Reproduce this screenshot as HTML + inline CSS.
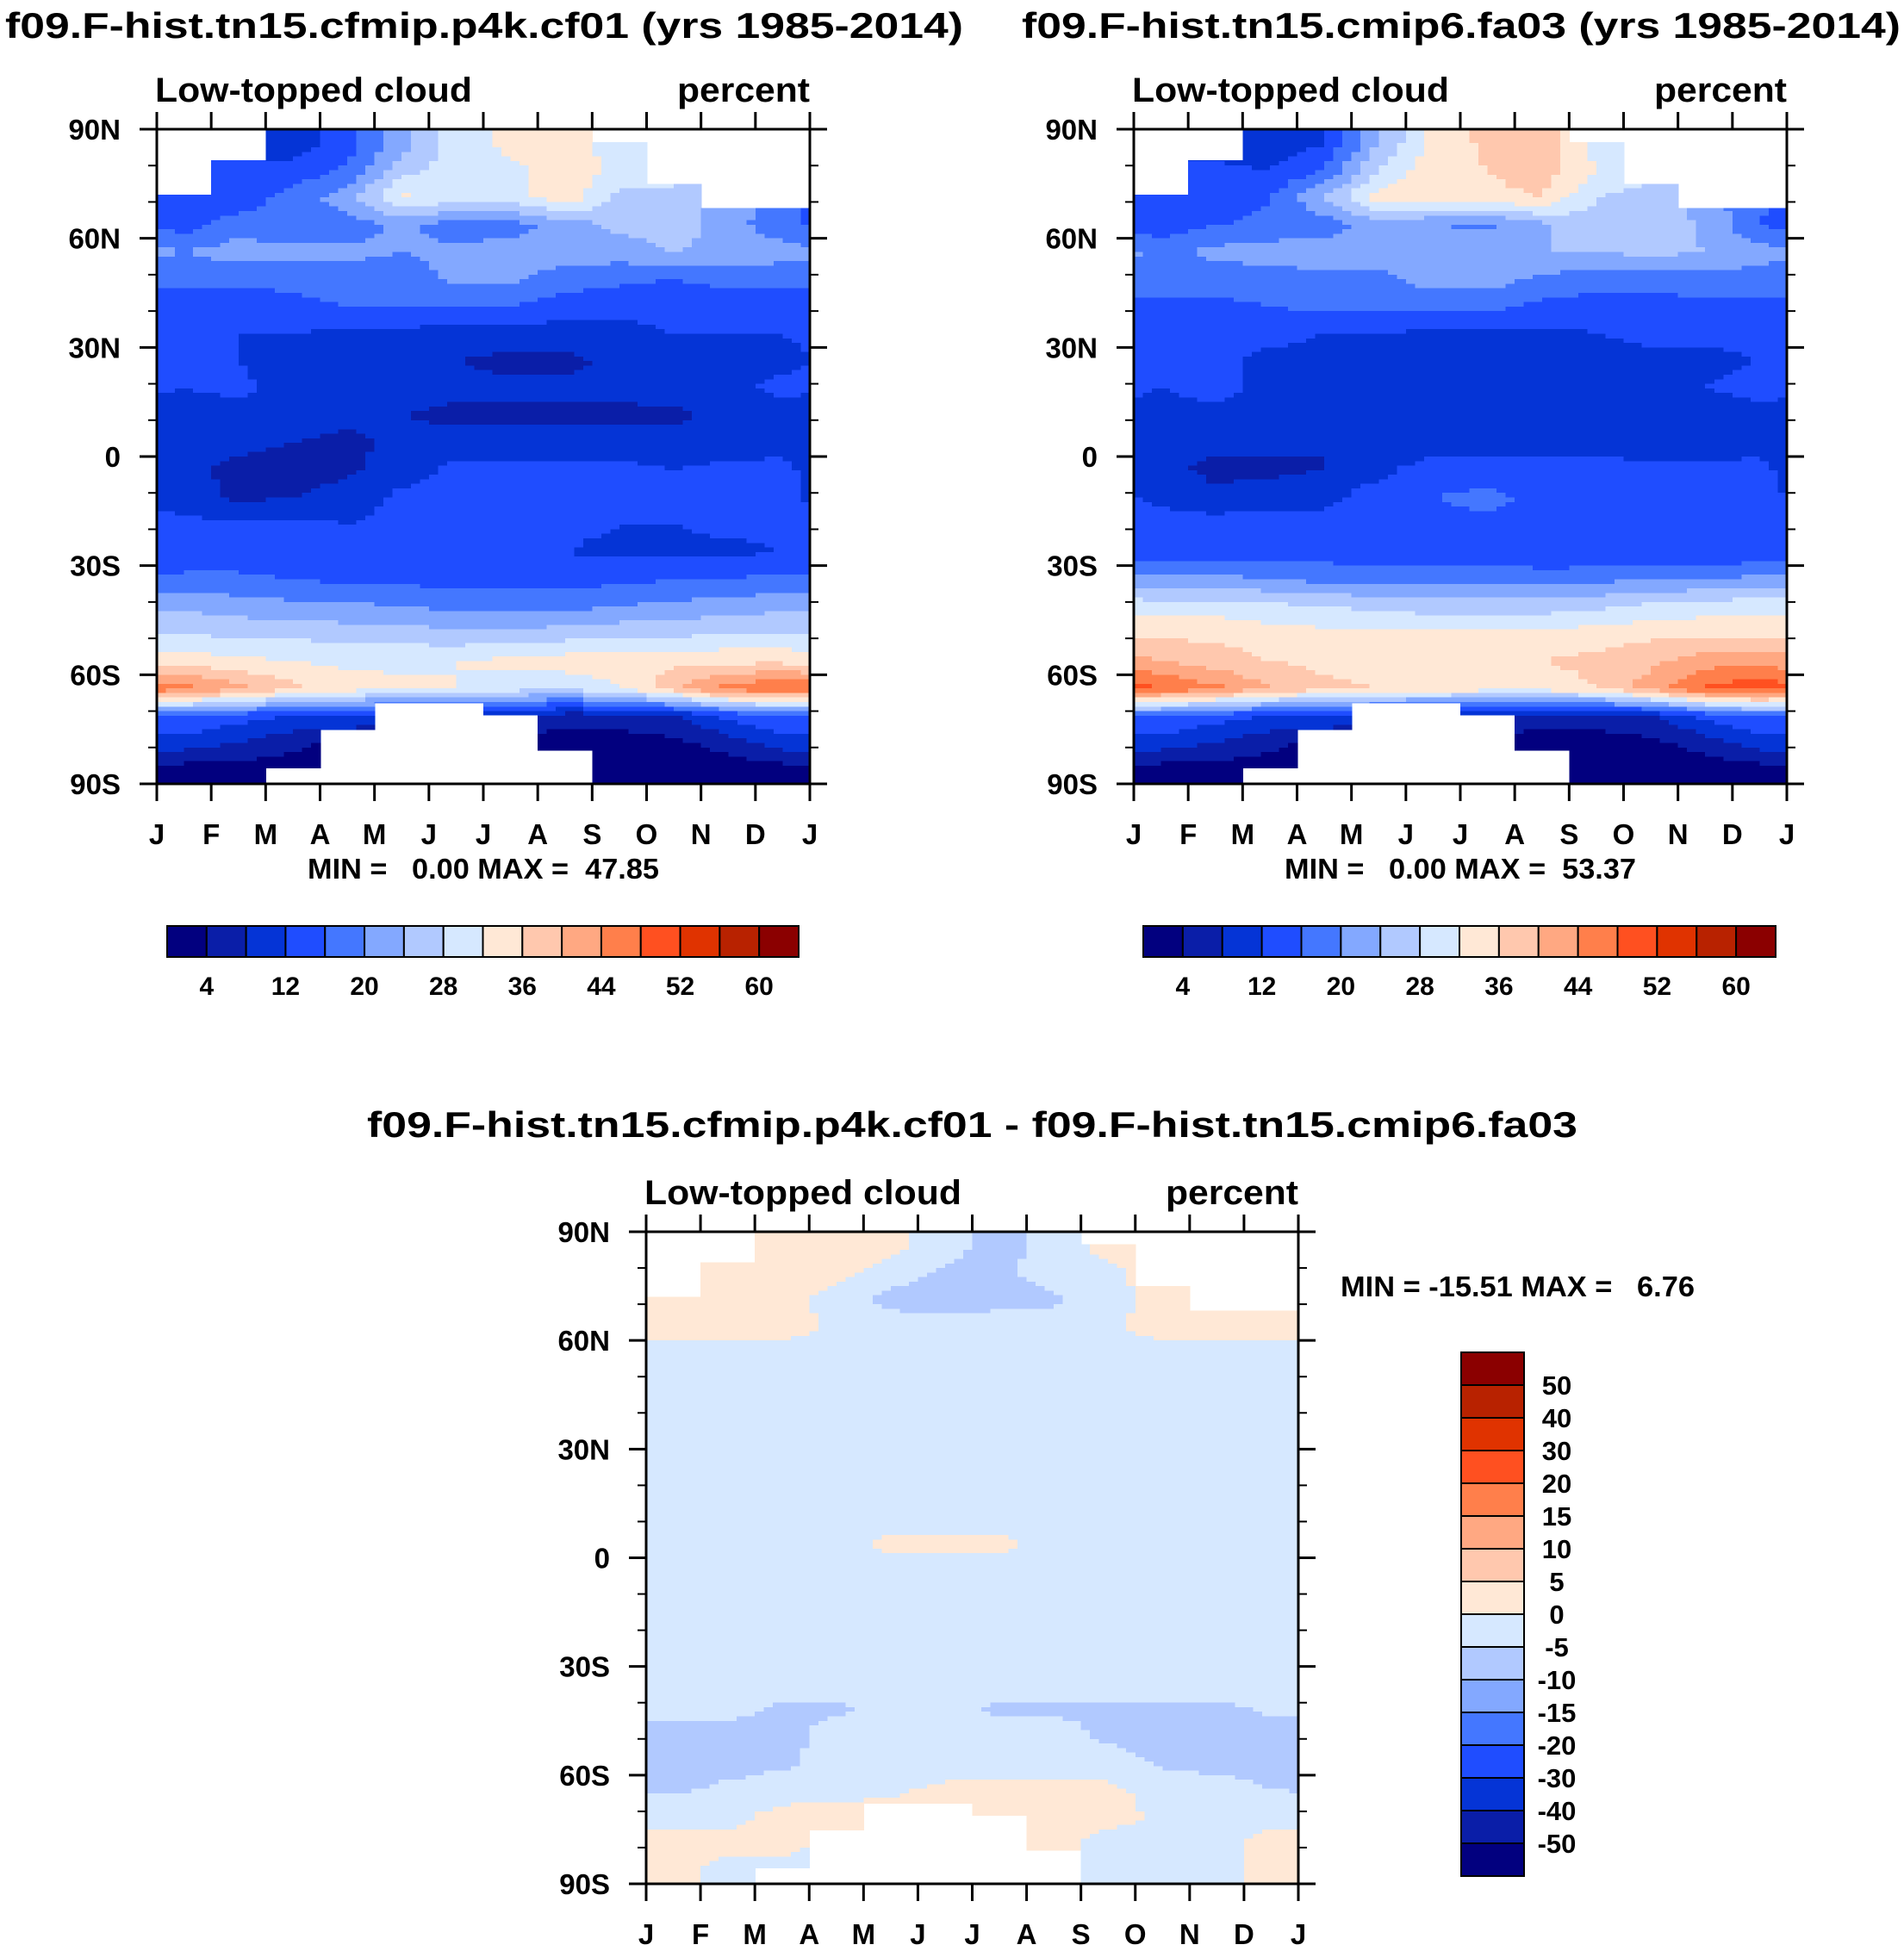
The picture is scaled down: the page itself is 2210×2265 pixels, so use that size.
<!DOCTYPE html>
<html><head><meta charset="utf-8"><style>
body{margin:0;background:#fff}
svg{display:block;font-family:"Liberation Sans",sans-serif;font-weight:bold}
</style></head><body>
<svg id="fig" width="2210" height="2265" viewBox="0 0 2210 2265" xmlns="http://www.w3.org/2000/svg">
<rect width="2210" height="2265" fill="#fff"/>
<text x="6" y="44" font-size="42" textLength="1112" lengthAdjust="spacingAndGlyphs">f09.F-hist.tn15.cfmip.p4k.cf01 (yrs 1985-2014)</text>
<text x="1186" y="44" font-size="42" textLength="1020" lengthAdjust="spacingAndGlyphs">f09.F-hist.tn15.cmip6.fa03 (yrs 1985-2014)</text>
<text x="426" y="1320" font-size="42" textLength="1405" lengthAdjust="spacingAndGlyphs">f09.F-hist.tn15.cfmip.p4k.cf01 - f09.F-hist.tn15.cmip6.fa03</text>
<text x="357" y="1020" font-size="33" xml:space="preserve" style="white-space:pre" textLength="408" lengthAdjust="spacingAndGlyphs">MIN =   0.00 MAX =  47.85</text>
<text x="1491" y="1020" font-size="33" xml:space="preserve" style="white-space:pre" textLength="408" lengthAdjust="spacingAndGlyphs">MIN =   0.00 MAX =  53.37</text>
<text x="1556" y="1505" font-size="33" xml:space="preserve" style="white-space:pre" textLength="411" lengthAdjust="spacingAndGlyphs">MIN = -15.51 MAX =   6.76</text>
<g id="layer"></g>
</svg>
<script>
const months=["J","F","M","A","M","J","J","A","S","O","N","D","J"];
const latTicks=["90N","60N","30N","0","30S","60S","90S"];
const maskTop=[72,81.5,90,90,90,90,90,90,86.5,75,68.3,68.3];
const maskBot=[-90,-90,-85.5,-75,-67.7,-67.7,-71,-80.7,-90,-90,-90,-90];
const cf01=[
[10,10,10,14,22,30,33,34,30,30,25,25],
[14,14,13,17,26,31,31,34,31,30,26,26],
[13,13,18,22,33,30,30,35,27,27,22,18],
[14,18,17,18,21,18,18,22,25,26,22,17],
[20,22,21,21,20,21,22,22,22,24,23,22],
[17,17,17,18,18,21,21,18,17,16,17,17],
[14,14,15,16,16,16,16,14,13,13,14,14],
[13,12,12,11,11,10,10,10,11,12,12,12],
[13,12,10,10,10,8,7,7,9,10,10,11],
[12,13,10,10,10,9,9,9,9,10,11,13],
[10,10,10,9,8,7,7,7,7,7,9,10],
[10,9,8,7,9,10,10,10,10,10,10,11],
[9,7,6,7,10,13,13,13,13,12,13,13],
[10,7,8,10,13,14,15,13,13,12,12,13],
[13,13,13,12,13,14,14,13,12,12,13,13],
[13,13,13,13,12,13,13,12,11,11,11,12],
[17,17,16,15,15,14,14,14,15,16,16,17],
[23,22,21,21,20,19,19,19,20,21,22,23],
[28,27,27,26,26,25,25,26,27,27,28,28],
[34,33,32,31,31,32,33,34,34,35,35,35],
[46,41,37,34,33,32,30,29,32,39,46,48],
[16,14,12,12,8,8,8,6,6,8,13,16],
[10,8,5,3,3,2,2,2,2,3,6,10],
[2,2,2,2,2,2,2,2,1,1,1,2]];
const fa03=[
[10,10,8,12,24,33,37,38,30,30,25,25],
[13,13,12,16,28,35,36,38,32,30,26,26],
[12,12,16,24,34,35,35,36,28,26,22,17],
[13,16,17,18,22,20,19,23,27,28,23,16],
[19,21,22,22,22,23,24,24,24,25,24,22],
[18,18,18,19,19,22,22,19,18,18,18,18],
[15,15,16,17,17,17,17,15,14,14,15,15],
[13,13,13,12,12,11,11,11,12,13,13,13],
[13,13,11,11,11,9,8,8,10,11,11,12],
[12,13,11,11,11,10,10,10,10,11,12,13],
[11,11,11,10,9,8,8,8,8,8,10,11],
[10,9,9,8,9,10,10,10,10,10,10,11],
[9,7,7,8,11,14,14,14,14,13,13,13],
[11,9,10,11,14,16,17,15,14,13,13,13],
[14,14,14,13,14,15,15,14,13,13,13,14],
[14,14,14,14,13,14,14,13,12,12,12,13],
[21,21,20,19,19,18,18,18,19,20,20,21],
[30,30,29,28,27,26,26,26,27,29,30,31],
[35,35,34,33,33,33,33,33,34,35,35,35],
[40,38,36,35,34,34,35,36,37,39,42,43],
[48,45,40,37,36,35,34,34,36,42,49,51],
[16,14,12,12,8,8,8,6,6,8,13,16],
[10,8,5,3,3,2,2,2,2,3,6,10],
[2,2,2,2,2,2,2,2,1,1,1,2]];
const diff=[
[2,2,2,2,2,-3,-7,-3,2,2,2,2],
[2,2,2,2,-2,-6,-6,-3,-1,2,2,2],
[2,2,2,-2,-7,-8,-7,-6,-2,2,2,2],
[2,2,2,-1,-2,-2,-2,-2,-1,2,2,2],
[-2,-2,-2,-2,-2,-2,-2,-2,-2,-2,-2,-2],
[-2,-2,-2,-2,-2,-2,-2,-2,-2,-2,-2,-2],
[-2,-2,-2,-2,-2,-2,-2,-2,-2,-2,-2,-2],
[-2,-2,-2,-2,-2,-2,-2,-2,-2,-2,-2,-2],
[-2,-2,-2,-2,-2,-2,-2,-2,-2,-2,-2,-2],
[-2,-2,-2,-2,-2,-2,-2,-2,-2,-2,-2,-2],
[-2,-2,-2,-2,-2,-2,-2,-2,-2,-2,-1,-2],
[-2,-2,-2,-2,1,1,1,-2,-2,-2,-2,-2],
[-2,-2,-2,-2,-2,-2,-2,-2,-2,-2,-2,-2],
[-2,-2,-2,-2,-2,-2,-2,-2,-2,-2,-2,-2],
[-2,-2,-2,-2,-2,-2,-2,-2,-2,-2,-2,-2],
[-2,-2,-2,-2,-2,-2,-2,-2,-2,-2,-2,-2],
[-2,-2,-2,-2,-2,-2,-2,-2,-2,-2,-2,-2],
[-3,-3,-6,-6,-3,-3,-6,-6,-6,-6,-6,-4],
[-7,-7,-7,-3,-3,-3,-3,-3,-6,-7,-7,-7],
[-7,-7,-6,-3,-3,-3,-3,-3,-3,-6,-7,-7],
[-6,-4,-3,-2,-1,1,1,1,1,-2,-3,-5],
[-2,-2,2,2,2,2,2,2,2,-1,-2,-2],
[2,2,2,-2,-2,-2,-2,2,-2,-2,-2,2],
[2,-2,-2,-2,-2,-2,-2,2,-2,-2,-2,2]];
const colors=["#02007f","#0a1ea8","#0534d6","#1f4dff","#4477ff","#83a8ff","#b1c9ff","#d6e8ff","#ffe8d6","#ffc8ae","#ffa882","#ff7f4b","#ff5020","#e03300","#b82200","#8b0000"];
const absLevels=[4,8,12,16,20,24,28,32,36,40,44,48,52,56,60];
const absLabels=["4","12","20","28","36","44","52","60"];
const diffLevels=[-50,-40,-30,-20,-15,-10,-5,0,5,10,15,20,30,40,50];
const NS="http://www.w3.org/2000/svg";
const layer=document.getElementById('layer');
const SUB=6;
function mk(tag,attrs,parent){const e=document.createElementNS(NS,tag);for(const k in attrs)e.setAttribute(k,attrs[k]);(parent||layer).appendChild(e);return e;}
function colorFor(v,levels){let i=0;while(i<levels.length&&v>=levels[i])i++;return colors[i];}
function sample(data,u,v){
  const nr=data.length;
  const c=u-0.5,r=v-0.5;
  const c0=Math.floor(c),tx=c-c0;
  let r0=Math.floor(r),ty=r-r0;
  const ca=(c0%12+12)%12,cb=(c0+1)%12;
  const ra=Math.max(0,Math.min(nr-1,r0)),rb=Math.max(0,Math.min(nr-1,r0+1));
  return (data[ra][ca]*(1-tx)+data[ra][cb]*tx)*(1-ty)+(data[rb][ca]*(1-tx)+data[rb][cb]*tx)*ty;
}
function plot(x0,y0,x1,y1,data,levels,name,labW){
  const g=mk('g',{});
  
  
  const w=x1-x0,h=y1-y0;
  const xs=i=>x0+i*w/12;
  const ys=lat=>y0+(90-lat)/180*h;
  const nr=data.length,dl=180/nr;
  const cells=mk('g',{'shape-rendering':'crispEdges'},g);
  
  
  for(let r=0;r<nr;r++){
    for(let sr=0;sr<SUB;sr++){
      const v=r+(sr+0.5)/SUB;
      const latTop=90-(r+sr/SUB)*dl,latBot=latTop-dl/SUB;
      for(let c=0;c<12;c++){
        const t=Math.min(latTop,maskTop[c]),b=Math.max(latBot,maskBot[c]);
        if(t<=b)continue;
        for(let sc=0;sc<SUB;sc++){
          const u=c+(sc+0.5)/SUB;
          const val=sample(data,u,v);
          const e=mk('rect',{x:(xs(c)+sc*w/12/SUB).toFixed(1),y:ys(t).toFixed(1),width:(w/12/SUB+0.8).toFixed(1),height:(ys(b)-ys(t)+0.8).toFixed(1),fill:colorFor(val,levels)},cells);
          
          
        }
      }
    }
  }
  const fr=mk('rect',{x:x0,y:y0,width:w,height:h,fill:'none',stroke:'#000','stroke-width':3},g);
  
  
  months.forEach((m,i)=>{
    const x=xs(i);
    mk('line',{x1:x,x2:x,y1:y1,y2:y1+20,stroke:'#000','stroke-width':3},g);
    mk('line',{x1:x,x2:x,y1:y0,y2:y0-20,stroke:'#000','stroke-width':3},g);
    const t=mk('text',{x:x,y:y1+70,'font-size':33,'text-anchor':'middle'},g);
    t.textContent=m;
    
    
  });
  for(let lat=90;lat>=-90;lat-=10){
    const y=ys(lat),major=lat%30===0,L=major?20:10;
    mk('line',{x1:x0-L,x2:x0,y1:y,y2:y,stroke:'#000','stroke-width':major?3:2},g);
    mk('line',{x1:x1,x2:x1+L,y1:y,y2:y,stroke:'#000','stroke-width':major?3:2},g);
  }
  latTicks.forEach((s,i)=>{
    const t=mk('text',{x:x0-42,y:ys(90-30*i)+12,'font-size':33,'text-anchor':'end'},g);
    t.textContent=s;
    
    
  });
  const a=mk('text',{x:x0-2,y:y0-32,'font-size':40,textLength:labW[0],lengthAdjust:'spacingAndGlyphs'},g);
  a.textContent='Low-topped cloud';
  
  
  const u=mk('text',{x:x1,y:y0-32,'font-size':40,'text-anchor':'end',textLength:labW[1],lengthAdjust:'spacingAndGlyphs'},g);
  u.textContent='percent';
  
  
}
function hbar(x0,y0,x1,y1,name){
  const g=mk('g',{});
  
  
  const bw=(x1-x0)/16;
  colors.forEach((c,i)=>{
    const r=mk('rect',{x:x0+i*bw,y:y0,width:bw,height:y1-y0,fill:c,stroke:'#000','stroke-width':2},g);
    
    
  });
  absLabels.forEach((s,i)=>{
    const t=mk('text',{x:x0+(1+2*i)*bw,y:y1+44,'font-size':30,'text-anchor':'middle'},g);
    t.textContent=s;
    
    
  });
}
function vbar(x0,y0,x1,y1,name){
  const g=mk('g',{});
  
  
  const bh=(y1-y0)/16;
  colors.slice().reverse().forEach((c,i)=>{
    const r=mk('rect',{x:x0,y:y0+i*bh,width:x1-x0,height:bh,fill:c,stroke:'#000','stroke-width':2},g);
    
    
  });
  diffLevels.slice().reverse().forEach((v,i)=>{
    const t=mk('text',{x:x1+38,y:y0+(i+1)*bh+11,'font-size':31,'text-anchor':'middle'},g);
    t.textContent=String(v);
    
    
  });
}
plot(182,150,940,910,cf01,absLevels,'plot-cf01',[368,154]);
plot(1316,150,2074,910,fa03,absLevels,'plot-fa03',[368,154]);
plot(750,1430,1507,2187,diff,diffLevels,'plot-diff',[368,154]);
hbar(194,1075,927,1111,'colorbar-cf01');
hbar(1327,1075,2061,1111,'colorbar-fa03');
vbar(1696,1570,1769,2178,'colorbar-diff');
</script>
</body></html>
